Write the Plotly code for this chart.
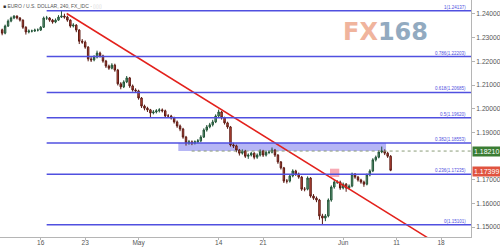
import plotly.graph_objects as go

# x = trading-day index (0 = Mon 16 Apr 2018), weekends skipped; 8h candles
first_x = -4.333
candles_per_day = 3
first_open = 1.2333

close = [1.2319, 1.2349, 1.2370, 1.2383, 1.2391, 1.2383, 1.2374, 1.2344, 1.2324, 1.2328,
         1.2328, 1.2332, 1.2332, 1.2344, 1.2383, 1.2383, 1.2374, 1.2366, 1.2374, 1.2387,
         1.2391, 1.2387, 1.2374, 1.2349, 1.2353, 1.2332, 1.2285, 1.2281, 1.2260, 1.2210,
         1.2206, 1.2218, 1.2235, 1.2223, 1.2201, 1.2180, 1.2171, 1.2184, 1.2163, 1.2105,
         1.2092, 1.2113, 1.2130, 1.2096, 1.2079, 1.2075, 1.2045, 1.2011, 1.2002, 1.1995,
         1.1982, 1.1986, 1.1991, 1.1995, 1.1991, 1.1969, 1.1969, 1.1961, 1.1944, 1.1927,
         1.1914, 1.1880, 1.1855, 1.1860, 1.1855, 1.1860, 1.1864, 1.1880, 1.1910, 1.1923,
         1.1932, 1.1944, 1.1969, 1.1986, 1.1961, 1.1940, 1.1923, 1.1847, 1.1843, 1.1825,
         1.1812, 1.1821, 1.1799, 1.1804, 1.1812, 1.1795, 1.1804, 1.1821, 1.1804, 1.1816,
         1.1816, 1.1825, 1.1804, 1.1775, 1.1750, 1.1694, 1.1694, 1.1716, 1.1737, 1.1724,
         1.1711, 1.1660, 1.1660, 1.1707, 1.1631, 1.1622, 1.1614, 1.1547, 1.1538, 1.1547,
         1.1614, 1.1669, 1.1690, 1.1690, 1.1665, 1.1681, 1.1665, 1.1673, 1.1724, 1.1711,
         1.1699, 1.1690, 1.1681, 1.1720, 1.1737, 1.1784, 1.1795, 1.1817, 1.1821, 1.1812,
         1.1799, 1.17399]

high = [1.2338, 1.2355, 1.2377, 1.2389, 1.2395, 1.2394, 1.2387, 1.2377, 1.2348, 1.2335,
        1.2334, 1.2338, 1.2339, 1.2349, 1.2389, 1.2392, 1.2387, 1.2379, 1.2381, 1.2395,
        1.2414, 1.2401, 1.2393, 1.2377, 1.2361, 1.2357, 1.2336, 1.2294, 1.2288, 1.2264,
        1.2218, 1.2226, 1.2245, 1.2241, 1.2228, 1.2206, 1.2186, 1.2192, 1.2190, 1.2168,
        1.2112, 1.2120, 1.2138, 1.2134, 1.2102, 1.2086, 1.2080, 1.2049, 1.2017, 1.2008,
        1.1999, 1.1994, 1.1998, 1.2002, 1.2001, 1.1996, 1.1977, 1.1974, 1.1966, 1.1950,
        1.1933, 1.1919, 1.1885, 1.1868, 1.1866, 1.1866, 1.1872, 1.1888, 1.1917, 1.1931,
        1.1940, 1.1953, 1.1976, 1.1996, 1.1990, 1.1966, 1.1945, 1.1927, 1.1856, 1.1848,
        1.1830, 1.1828, 1.1826, 1.1811, 1.1818, 1.1816, 1.1811, 1.1828, 1.1826, 1.1822,
        1.1824, 1.1836, 1.1830, 1.1808, 1.1779, 1.1754, 1.1703, 1.1722, 1.1744, 1.1742,
        1.1730, 1.1716, 1.1669, 1.1714, 1.1711, 1.1639, 1.1629, 1.1619, 1.1556, 1.1555,
        1.1621, 1.1676, 1.1698, 1.1698, 1.1696, 1.1688, 1.1686, 1.1680, 1.1730, 1.1728,
        1.1716, 1.1704, 1.1696, 1.1726, 1.1744, 1.1791, 1.1802, 1.1824, 1.1840, 1.1828,
        1.1818, 1.1804]

low = [1.2310, 1.2314, 1.2345, 1.2365, 1.2378, 1.2377, 1.2368, 1.2337, 1.2313, 1.2318,
       1.2322, 1.2324, 1.2326, 1.2328, 1.2341, 1.2375, 1.2367, 1.2359, 1.2361, 1.2371,
       1.2383, 1.2380, 1.2367, 1.2342, 1.2343, 1.2323, 1.2273, 1.2274, 1.2253, 1.2200,
       1.2197, 1.2200, 1.2212, 1.2216, 1.2194, 1.2172, 1.2164, 1.2166, 1.2156, 1.2098,
       1.2082, 1.2087, 1.2108, 1.2088, 1.2072, 1.2068, 1.2038, 1.2003, 1.1993, 1.1986,
       1.1964, 1.1976, 1.1980, 1.1984, 1.1984, 1.1962, 1.1962, 1.1954, 1.1937, 1.1919,
       1.1905, 1.1873, 1.1844, 1.1848, 1.1846, 1.1849, 1.1854, 1.1858, 1.1876, 1.1903,
       1.1917, 1.1925, 1.1939, 1.1964, 1.1954, 1.1933, 1.1915, 1.1840, 1.1834, 1.1816,
       1.1802, 1.1806, 1.1792, 1.1788, 1.1798, 1.1786, 1.1788, 1.1798, 1.1796, 1.1798,
       1.1808, 1.1811, 1.1796, 1.1767, 1.1743, 1.1686, 1.1684, 1.1688, 1.1710, 1.1716,
       1.1704, 1.1653, 1.1651, 1.1655, 1.1624, 1.1615, 1.1605, 1.1531, 1.1510, 1.1525,
       1.1541, 1.1607, 1.1662, 1.1682, 1.1657, 1.1659, 1.1649, 1.1659, 1.1668, 1.1704,
       1.1692, 1.1683, 1.1670, 1.1676, 1.1714, 1.1732, 1.1777, 1.1790, 1.1812, 1.1804,
       1.1792, 1.1736]

tick_days = [0, 5, 11, 20, 25, 34, 40, 45]
tick_text = ["16", "23", "May", "14", "21", "Jun", "11", "18"]
price_ticks = [1.15, 1.16, 1.17, 1.19, 1.20, 1.21, 1.22, 1.23, 1.24]

fib_ratio = ["1", "0.786", "0.618", "0.5", "0.382", "0.236", "0"]
fib_price = [1.24137, 1.22203, 1.20685, 1.19620, 1.18553, 1.17235, 1.15101]
fib_start_day = 0.67

trend_day = [2.92, 43.7]
trend_price = [1.2402, 1.1450]

zone_day = [15.47, 38.82]
zone_price = [1.1821, 1.18553]

marker_day = [32.52, 33.56]
marker_price = [1.17114, 1.17465]

ref_price = 1.18210
ref_start_day = 16.97
last_price = 1.17399

x_range = [-4.575, 48.37]
y_range = [1.1458, 1.2459]

x = [first_x + i / candles_per_day for i in range(len(close))]
opens = [first_open] + close[:-1]

FONT = "Liberation Sans, Arial, sans-serif"
FIB_COLOR = "#5050e0"

fig = go.Figure()
fig.add_trace(go.Candlestick(
    x=x, open=opens, high=high, low=low, close=close,
    increasing=dict(line=dict(color="#225437", width=1), fillcolor="#6ba583"),
    decreasing=dict(line=dict(color="#5b1a13", width=1), fillcolor="#d75442"),
    whiskerwidth=0, hoverinfo="skip", showlegend=False,
))

shapes = []
shapes.append(dict(type="rect", xref="x", yref="y", x0=zone_day[0], x1=zone_day[1],
                   y0=zone_price[0], y1=zone_price[1], fillcolor="rgba(110,110,235,0.5)",
                   line=dict(width=0), layer="below"))
shapes.append(dict(type="rect", xref="x", yref="y", x0=marker_day[0], x1=marker_day[1],
                   y0=marker_price[0], y1=marker_price[1], fillcolor="rgba(240,100,120,0.55)",
                   line=dict(width=0), layer="above"))
shapes.append(dict(type="line", xref="x", yref="y", x0=ref_start_day, x1=x_range[1],
                   y0=ref_price, y1=ref_price, line=dict(color="#8a9c78", width=1, dash="dot")))
for p in fib_price:
    shapes.append(dict(type="line", xref="x", yref="y", x0=fib_start_day, x1=x_range[1],
                       y0=p, y1=p, line=dict(color=FIB_COLOR, width=1.5)))

fig.add_trace(go.Scatter(x=trend_day, y=trend_price, mode="lines",
                         line=dict(color="#e3211c", width=1.5), hoverinfo="skip", showlegend=False))

annotations = []
for r, p in zip(fib_ratio, fib_price):
    annotations.append(dict(xref="paper", yref="y", x=1, y=p, xanchor="right", yanchor="bottom",
                            xshift=-3, yshift=-1, showarrow=False,
                            text=f"{r}({p:.5f})", font=dict(family=FONT, size=4.5, color=FIB_COLOR)))
annotations.append(dict(xref="paper", yref="y", x=1, y=ref_price, xanchor="left", yanchor="middle",
                        xshift=1, showarrow=False, text=f"{ref_price:.5f}", bgcolor="#3a7d33",
                        borderpad=1, font=dict(family=FONT, size=7, color="white")))
annotations.append(dict(xref="paper", yref="y", x=1, y=last_price, xanchor="left", yanchor="middle",
                        xshift=1, yshift=-1, showarrow=False, text=f"{last_price:.5f}", bgcolor="#e0533f",
                        borderpad=1, font=dict(family=FONT, size=7, color="white")))
annotations.append(dict(xref="paper", yref="paper", x=0.8195, y=0.867, xanchor="center", yanchor="middle",
                        showarrow=False, opacity=0.85,
                        text="<b><span style='color:#eea88c'>FX</span><span style='color:#7f9cb6'>168</span></b>",
                        font=dict(family="DejaVu Sans", size=24)))
annotations.append(dict(xref="paper", yref="paper", x=0, y=1, xanchor="left", yanchor="top",
                        xshift=1, yshift=-1, showarrow=False,
                        text="<span style='color:#333'>■</span> EURO / U.S. DOLLAR, 240, FX_IDC · <span style='color:#ccc'>▯▯▯</span>",
                        font=dict(family=FONT, size=5, color="#555")))

fig.update_layout(
    width=500, height=247,
    margin=dict(l=0, r=29, t=0, b=10),
    paper_bgcolor="white", plot_bgcolor="white",
    showlegend=False,
    shapes=shapes, annotations=annotations,
    xaxis=dict(range=x_range, tickvals=tick_days, ticktext=tick_text, showgrid=False,
               zeroline=False, showline=True, linecolor="#b5b5b5", linewidth=1,
               ticks="outside", ticklen=2, tickcolor="#b5b5b5", ticklabelstandoff=-3,
               tickfont=dict(family=FONT, size=6.5, color="#555"),
               rangeslider=dict(visible=False), automargin=False, fixedrange=True),
    yaxis=dict(range=y_range, side="right", tickvals=price_ticks,
               ticktext=[f"{v:.5f}" for v in price_ticks], showgrid=False, zeroline=False,
               showline=True, linecolor="#b5b5b5", linewidth=1,
               ticks="outside", ticklen=3, tickcolor="#b5b5b5",
               tickfont=dict(family=FONT, size=6.7, color="#555"),
               automargin=False, fixedrange=True),
)

fig.write_html("out.html")
